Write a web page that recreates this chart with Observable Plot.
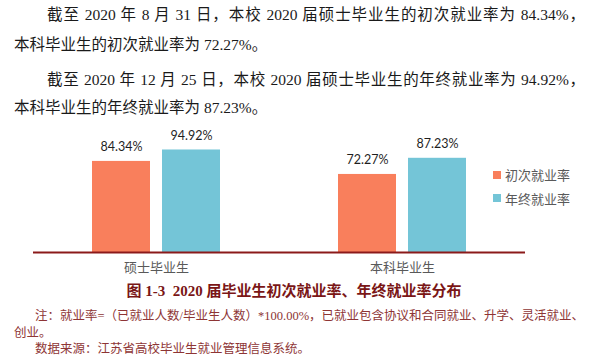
<!DOCTYPE html>
<html>
<head>
<meta charset="utf-8">
<script src="https://cdn.jsdelivr.net/npm/d3@7"></script>
<script src="https://cdn.jsdelivr.net/npm/@observablehq/plot@0.6"></script>
<style>
  html, body { margin: 0; padding: 0; background: #fff; }
  #root { position: relative; width: 605px; height: 357px; overflow: hidden; }
  .para { position: absolute; font-family: "Liberation Serif", "Noto Sans CJK SC", serif; font-size: 15.5px; color: #1a1a1a; line-height: 20px; white-space: nowrap; }
  .just { text-align: justify; text-align-last: justify; white-space: normal; }
  #chart { position: absolute; left: 0; top: 120px; }
  #legend { position: absolute; left: 493px; top: 163px; }
  #legend .lg-swatch { height: 23.5px; padding-bottom: 0; font-family: "Noto Sans CJK SC", sans-serif; font-size: 13px; color: #595959; }
  #legend .lg-swatch svg { margin-right: 4px; }
  .caption { position: absolute; left: 0; width: 588px; text-align: center; top: 281px; font-family: "Liberation Serif", "Noto Sans CJK SC", serif; font-weight: bold; font-size: 15px; color: #7a1616; line-height: 20px; white-space: nowrap; }
  .note { position: absolute; font-family: "Liberation Serif", "Noto Sans CJK SC", serif; font-size: 12.5px; color: #8e3535; line-height: 16px; white-space: nowrap; }
</style>
</head>
<body>
<div id="root">
  <div class="para just" style="left:47px; top:5px; width:538px;">截至 2020 年 8 月 31 日，本校 2020 届硕士毕业生的初次就业率为 84.34%，</div>
  <div class="para" style="left:14px; top:35px;">本科毕业生的初次就业率为 72.27%。</div>
  <div class="para just" style="left:47px; top:70px; width:538px;">截至 2020 年 12 月 25 日，本校 2020 届硕士毕业生的年终就业率为 94.92%，</div>
  <div class="para" style="left:14px; top:98px;">本科毕业生的年终就业率为 87.23%。</div>
  <div id="chart"></div>
  <div id="legend"></div>
  <div class="caption">图 1-3&nbsp; 2020 届毕业生初次就业率、年终就业率分布</div>
  <div class="note just" style="left:35px; top:308px; width:533px;">注：就业率=（已就业人数/毕业生人数）*100.00%，已就业包含协议和合同就业、升学、灵活就业、</div>
  <div class="note" style="left:14px; top:325px;">创业。</div>
  <div class="note" style="left:35px; top:341px;">数据来源：江苏省高校毕业生就业管理信息系统。</div>
</div>
<script>
const categories = ["硕士毕业生", "本科毕业生"];
const series = ["初次就业率", "年终就业率"];
const initialRates = [84.34, 72.27];
const finalRates = [94.92, 87.23];
const colors = ["#F97F5C", "#74C5D7"];

const data = [];
categories.forEach((c, i) => {
  data.push({cat: c, series: series[0], value: initialRates[i]});
  data.push({cat: c, series: series[1], value: finalRates[i]});
});

const chart = Plot.plot({
  width: 605,
  height: 165,
  marginLeft: 32,
  marginRight: 80,
  marginTop: 24,
  marginBottom: 33,
  style: {fontFamily: "'Noto Sans CJK SC', sans-serif", fontSize: "13px", background: "transparent"},
  fx: {domain: categories, padding: 0, label: null},
  x: {domain: series, paddingInner: 0.167, paddingOuter: 0.817, axis: null},
  y: {domain: [0, 100], axis: null},
  color: {domain: series, range: colors},
  marks: [
    Plot.barY(data, {fx: "cat", x: "series", y: "value", fill: "series"}),
    Plot.text(data, {fx: "cat", x: "series", y: "value", text: d => d.value.toFixed(2) + "%", dy: -14, fontSize: 12.5, fill: "#1f1f1f", fontFamily: "Lato, 'Noto Sans', sans-serif"}),
    Plot.ruleY([0], {stroke: "#8B1A1A", strokeWidth: 2}),
    Plot.axisFx({anchor: "bottom", tickSize: 0, tickPadding: 10, label: null, fill: "#595959", fontSize: 13})
  ]
});
document.getElementById("chart").appendChild(chart);

const legend = Plot.legend({
  color: {domain: series, range: colors},
  legend: "swatches",
  columns: 1,
  swatchSize: 8,
  className: "lg"
});
document.getElementById("legend").appendChild(legend);
</script>
</body>
</html>
